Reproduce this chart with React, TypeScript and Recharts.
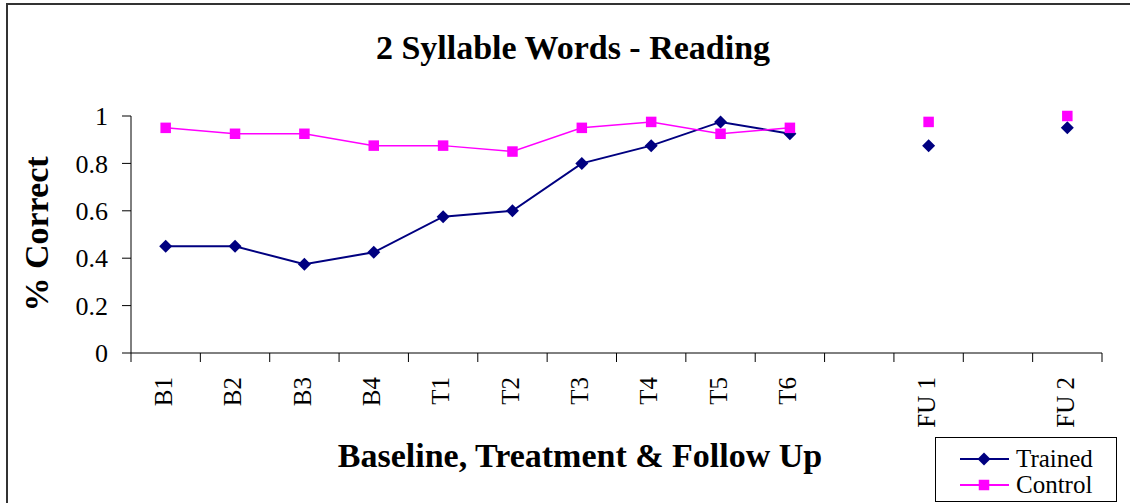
import { LineChart, Line, XAxis, YAxis, Legend } from "recharts"

const categories = ["B1", "B2", "B3", "B4", "T1", "T2", "T3", "T4", "T5", "T6", "", "FU 1", "", "FU 2"]
const trained = [0.45, 0.45, 0.375, 0.425, 0.575, 0.6, 0.8, 0.875, 0.975, 0.925, null, 0.875, null, 0.95]
const control = [0.95, 0.925, 0.925, 0.875, 0.875, 0.85, 0.95, 0.975, 0.925, 0.95, null, 0.975, null, 1]
const yTicks = [0, 0.2, 0.4, 0.6, 0.8, 1]
const legendOrder = ["trained", "control"]

const data = categories.map((label, i) => ({
    slot: i,
    label,
    trained: trained[i],
    control: control[i],
}))

const W = 1130
const H = 503
const margin = { top: 116, right: 28, bottom: 0, left: 71 }
const yAxisWidth = 60
const xAxisHeight = 150
const plotWidth = W - margin.left - yAxisWidth - margin.right
const bandWidth = plotWidth / categories.length

const serif = '"Liberation Serif", "Times New Roman", serif'
const NAVY = "#000080"
const MAGENTA = "#FF00FF"

function Diamond(props: any) {
    const { cx, cy, index } = props
    if (cx == null || cy == null) return <g key={`t-${index}`} />
    const r = 6.5
    return (
        <polygon
            key={`t-${index}`}
            points={`${cx},${cy - r} ${cx + r},${cy} ${cx},${cy + r} ${cx - r},${cy}`}
            fill={NAVY}
        />
    )
}

function Square(props: any) {
    const { cx, cy, index } = props
    if (cx == null || cy == null) return <g key={`c-${index}`} />
    const s = 10.5
    return <rect key={`c-${index}`} x={cx - s / 2} y={cy - s / 2} width={s} height={s} fill={MAGENTA} />
}

function XTick(props: any) {
    const { x, y, payload, index } = props
    const label = categories[payload.value] ?? ""
    const left = x - bandWidth / 2
    const ty = y + 24
    return (
        <g>
            <line x1={left} y1={y} x2={left} y2={y + 9} stroke="#000" />
            {index === categories.length - 1 && (
                <line x1={x + bandWidth / 2} y1={y} x2={x + bandWidth / 2} y2={y + 9} stroke="#000" />
            )}
            <text
                x={x}
                y={ty}
                transform={`rotate(-90, ${x}, ${ty})`}
                textAnchor="end"
                dy="0.25em"
                fontSize={25}
                fontFamily={serif}
                fill="#000"
            >
                {label}
            </text>
        </g>
    )
}

function YTick(props: any) {
    const { x, y, payload } = props
    return (
        <text x={x} y={y} dy="0.35em" textAnchor="end" fontSize={26} fontFamily={serif} fill="#000">
            {String(payload.value)}
        </text>
    )
}

function LegendBox(props: any) {
    const items = [...(props.payload || [])].sort(
        (a: any, b: any) => legendOrder.indexOf(a.dataKey) - legendOrder.indexOf(b.dataKey)
    )
    return (
        <svg width={182} height={65} style={{ display: "block" }}>
            <rect x={0.5} y={0.5} width={181} height={64} fill="#fff" stroke="#000" />
            {items.map((item: any, i: number) => {
                const cy = 22 + i * 26
                const isTrained = item.dataKey === "trained"
                const color = isTrained ? NAVY : MAGENTA
                return (
                    <g key={item.value}>
                        <line x1={25} y1={cy} x2={74} y2={cy} stroke={color} strokeWidth={2} />
                        {isTrained ? (
                            <Diamond cx={49} cy={cy} index={i} />
                        ) : (
                            <Square cx={49} cy={cy} index={i} />
                        )}
                        <text x={81} y={cy} dy="0.33em" fontSize={25} fontFamily={serif} fill="#000">
                            {item.value}
                        </text>
                    </g>
                )
            })}
        </svg>
    )
}

export default function App() {
    return (
        <div
            style={{
                position: "absolute",
                left: 0,
                top: 0,
                width: W,
                height: H,
                background: "#fff",
                fontFamily: serif,
            }}
        >
            <svg width={W} height={H} style={{ position: "absolute", left: 0, top: 0 }}>
                <rect x={7} y={4} width={1200} height={600} fill="none" stroke="#333" strokeWidth={2} />
                <text x={573} y={59} textAnchor="middle" fontSize={34} fontWeight="bold" fontFamily={serif}>
                    2 Syllable Words - Reading
                </text>
                <text x={580} y={467} textAnchor="middle" fontSize={34} fontWeight="bold" fontFamily={serif}>
                    Baseline, Treatment &amp; Follow Up
                </text>
                <text
                    x={48}
                    y={234}
                    transform="rotate(-90, 48, 234)"
                    textAnchor="middle"
                    fontSize={34}
                    fontWeight="bold"
                    fontFamily={serif}
                >
                    % Correct
                </text>
            </svg>
            <div style={{ position: "absolute", left: 0, top: 0 }}>
                <LineChart width={W} height={H} data={data} margin={margin} style={{ fontFamily: serif }}>
                    <XAxis
                        dataKey="slot"
                        type="category"
                        scale="band"
                        height={xAxisHeight}
                        interval={0}
                        tickLine={false}
                        tickSize={0}
                        tickMargin={0}
                        tick={<XTick />}
                        axisLine={{ stroke: "#000" }}
                    />
                    <YAxis
                        width={yAxisWidth}
                        domain={[0, 1]}
                        ticks={yTicks}
                        tickSize={9}
                        tickMargin={14}
                        axisLine={{ stroke: "#000" }}
                        tickLine={{ stroke: "#000" }}
                        tick={<YTick />}
                    />
                    <Legend
                        layout="vertical"
                        align="center"
                        verticalAlign="middle"
                        content={<LegendBox />}
                        wrapperStyle={{ position: "absolute", left: 935, top: 437, width: 182, height: 65 }}
                    />
                    <Line
                        dataKey="trained"
                        name="Trained"
                        stroke={NAVY}
                        strokeWidth={2}
                        dot={(p: any) => <Diamond {...p} key={`t-${p.index}`} />}
                        activeDot={false}
                        isAnimationActive={false}
                    />
                    <Line
                        dataKey="control"
                        name="Control"
                        stroke={MAGENTA}
                        strokeWidth={1.5}
                        dot={(p: any) => <Square {...p} key={`c-${p.index}`} />}
                        activeDot={false}
                        isAnimationActive={false}
                    />
                </LineChart>
            </div>
        </div>
    )
}
